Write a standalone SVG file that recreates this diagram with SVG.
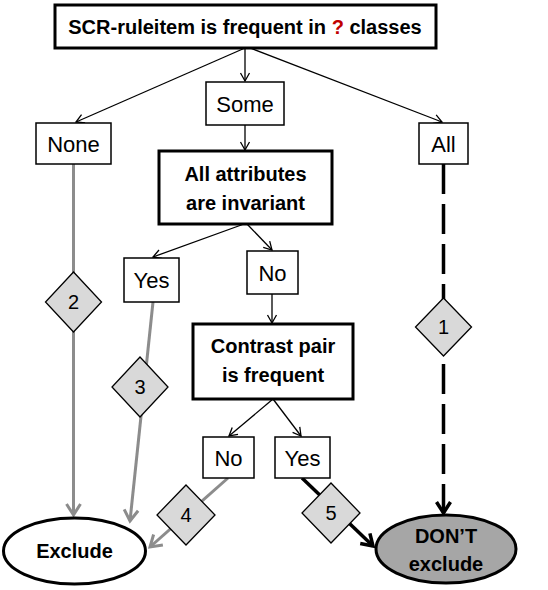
<svg xmlns="http://www.w3.org/2000/svg" width="548" height="590" viewBox="0 0 548 590">
<style>
.box{fill:#fff;stroke:#000;stroke-width:1.5}
.tbox{fill:#fff;stroke:#000;stroke-width:3}
.t{font-family:"Liberation Sans",Arial,sans-serif;font-size:22px;text-anchor:middle;fill:#000}
.b{font-family:"Liberation Sans",Arial,sans-serif;font-size:20px;font-weight:bold;text-anchor:middle;fill:#000}
.thin{stroke:#000;stroke-width:1.3;fill:none;marker-end:url(#aThin)}
.gray{stroke:#8c8c8c;stroke-width:3;fill:none;marker-end:url(#aGray)}
.blk{stroke:#000;stroke-width:3.5;fill:none;marker-end:url(#aBlk)}
.dash{stroke:#000;stroke-width:3.5;fill:none;stroke-dasharray:30 10;marker-end:url(#aBlk)}
.dia{fill:#d9d9d9;stroke:#000;stroke-width:1.3}
.n{font-family:"Liberation Sans",Arial,sans-serif;font-size:20px;text-anchor:middle;fill:#000}
</style>
<defs>
<marker id="aThin" markerUnits="userSpaceOnUse" viewBox="-10 -6 12 12" refX="0" refY="0" markerWidth="12" markerHeight="12" orient="auto" overflow="visible">
<path d="M-8,-4.5 L0,0 L-8,4.5" fill="none" stroke="#000" stroke-width="1.3"/>
</marker>
<marker id="aGray" markerUnits="userSpaceOnUse" viewBox="-14 -9 16 18" refX="0" refY="0" markerWidth="16" markerHeight="18" orient="auto" overflow="visible">
<path d="M-11,-7 L0,0 L-11,7" fill="none" stroke="#8c8c8c" stroke-width="3"/>
</marker>
<marker id="aBlk" markerUnits="userSpaceOnUse" viewBox="-14 -9 16 18" refX="0" refY="0" markerWidth="16" markerHeight="18" orient="auto" overflow="visible">
<path d="M-11,-7 L0,0 L-11,7" fill="none" stroke="#000" stroke-width="3.5"/>
</marker>
</defs>
<g id="connectors">
<path class="thin" d="M245,48 L245,81"/>
<path class="thin" d="M245,48 L76,122"/>
<path class="thin" d="M250,48 L442,122"/>
<path class="thin" d="M245,125 L245,150"/>
<path class="thin" d="M244,224 L153,257"/>
<path class="thin" d="M247,224 L272,250"/>
<path class="thin" d="M272,294 L272,323"/>
<path class="thin" d="M273,399 L229,436"/>
<path class="thin" d="M273,399 L301,436"/>
<path class="gray" d="M73.5,164 L73.5,515"/>
<path class="gray" d="M153,302 L130,521"/>
<path class="gray" d="M228,478 L150,547"/>
<path class="blk" d="M302,478 L373,546"/>
<path class="dash" d="M443.5,164 L443.5,513"/>
</g>
<g id="n-top"><rect class="tbox" x="55" y="5" width="381" height="43"/><text class="b" x="245" y="34">SCR-ruleitem is frequent in <tspan fill="#c00000">?</tspan> classes</text></g>
<g id="n-some"><rect class="box" x="206" y="82" width="78" height="43"/><text class="t" x="245" y="112">Some</text></g>
<g id="n-none"><rect class="box" x="36" y="123" width="75" height="41"/><text class="t" x="73.5" y="152">None</text></g>
<g id="n-all"><rect class="box" x="419" y="123" width="49" height="41"/><text class="t" x="443.5" y="152">All</text></g>
<g id="n-invariant"><rect class="tbox" x="159" y="151" width="173" height="73"/><text class="b" x="245.5" y="181">All attributes</text><text class="b" x="245.5" y="210">are invariant</text></g>
<g id="n-yes1"><rect class="box" x="124" y="258" width="55" height="44"/><text class="t" x="151.5" y="288">Yes</text></g>
<g id="n-no1"><rect class="box" x="247" y="251" width="51" height="43"/><text class="t" x="272.5" y="281">No</text></g>
<g id="n-contrast"><rect class="tbox" x="193" y="324" width="160" height="75"/><text class="b" x="273" y="353">Contrast pair</text><text class="b" x="273" y="382">is frequent</text></g>
<g id="n-no2"><rect class="box" x="203" y="437" width="51" height="41"/><text class="t" x="228.5" y="466">No</text></g>
<g id="n-yes2"><rect class="box" x="275" y="437" width="55" height="41"/><text class="t" x="302.5" y="466">Yes</text></g>
<g id="n-exclude"><ellipse cx="74.5" cy="551" rx="71" ry="33" fill="#fff" stroke="#000" stroke-width="3"/><text class="b" x="74.5" y="558">Exclude</text></g>
<g id="n-dont"><ellipse cx="446" cy="549" rx="70" ry="34" fill="#a6a6a6" stroke="#000" stroke-width="3"/><text class="b" x="446" y="543">DON’T</text><text class="b" x="446" y="571">exclude</text></g>
<g id="d1"><polygon class="dia" points="443.5,298 471.5,327 443.5,356 415.5,327"/><text class="n" x="443.5" y="334">1</text></g>
<g id="d2"><polygon class="dia" points="73.5,272 101.5,302 73.5,332 45.5,302"/><text class="n" x="73.5" y="309">2</text></g>
<g id="d3"><polygon class="dia" points="140,357 168,387 140,417 112,387"/><text class="n" x="140" y="394">3</text></g>
<g id="d4"><polygon class="dia" points="186,485 215,515 186,545 157,515"/><text class="n" x="186" y="522">4</text></g>
<g id="d5"><polygon class="dia" points="331,483 360,513 331,543 302,513"/><text class="n" x="331" y="520">5</text></g>
</svg>
